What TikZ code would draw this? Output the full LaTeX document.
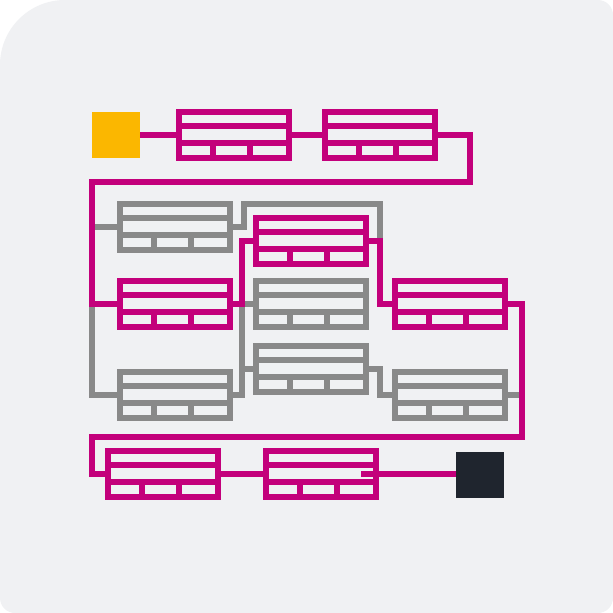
\documentclass[tikz,border=0pt]{standalone}
\usetikzlibrary{calc}
\definecolor{mag}{HTML}{C3007B}
\definecolor{gry}{HTML}{898989}
\definecolor{sun}{HTML}{FBB700}
\definecolor{ink}{HTML}{1F252E}
\definecolor{paper}{HTML}{F0F1F3}
\tikzset{
  record/.style={draw=#1, line width=6pt, minimum width=110pt, minimum height=46pt,
    inner sep=0pt, outer sep=3pt, anchor=north west,
    path picture={
      \draw[#1, line width=6pt]
        ($(path picture bounding box.north west)+(0,-14.3pt)$) -- ++(110pt,0)
        ($(path picture bounding box.north west)+(0,-30.8pt)$) -- ++(110pt,0)
        ($(path picture bounding box.north west)+(33.6pt,-30.8pt)$) -- ++(0,-20pt)
        ($(path picture bounding box.north west)+(71.3pt,-30.8pt)$) -- ++(0,-20pt);
    }},
  link/.style={draw=#1, line width=5.5pt},
  block/.style={fill=#1, minimum width=48pt, minimum height=46pt, inner sep=0pt},
}
\begin{document}
\begin{tikzpicture}[x=1pt,y=-1pt]
			\useasboundingbox (0,0) rectangle (613,613);
			\fill[paper, rounded corners=15pt] (0,0) rectangle (613,613);
			\fill[white] (0,0) rectangle (65,65);
			\fill[paper] (65,65) circle[radius=65pt];
			% start and end
			\node[block=sun] (start) at (116,135) {};
			\node[block=ink] (finish) at (480,475) {};
			% tasks
			\node[record=mag] (t11) at (176,109) {};
			\node[record=mag] (t12) at (322,109) {};
			\node[record=gry] (t21) at (117,201) {};
			\node[record=mag] (t22) at (253,215) {};
			\node[record=mag] (t31) at (117,278) {};
			\node[record=gry] (t32) at (253,278) {};
			\node[record=mag] (t33) at (392,278) {};
			\node[record=gry] (t42) at (253,343) {};
			\node[record=gry] (t41) at (117,369) {};
			\node[record=gry] (t43) at (392,369) {};
			\node[record=mag] (t51) at (105,448) {};
			\node[record=mag] (t52) at (263,448) {};
			\coordinate (turn1) at (470,182);
			\coordinate (turn2) at (92,182);
			\coordinate (turn3) at (522,437);
			\coordinate (turn4) at (92,437);
			\coordinate (gtop) at (380,204);
			\coordinate (tail) at ($(t52.east)+(-18,0)$);
			% slack paths
			\draw[link=gry] (t21.west) -- (t21.west -| turn2);
			\draw[link=gry] (t21.east) -- ++(11,0) |- (gtop) -- (gtop |- t22.east);
			\draw[link=gry] (t31.west -| turn2) |- (t41.west);
			\draw[link=gry] (t41.east) -- ++(9,0) coordinate (gx) |- (t32.west) (gx |- t42.west) -- (t42.west);
			\draw[link=gry] (t42.east) -- ++(11,0) |- (t43.west);
			\draw[link=gry] (t43.east) -- (t43.east -| turn3);
			% critical path
			\draw[link=mag] (start.east) -- (t11.west);
			\draw[link=mag] (t11.east) -- (t12.west);
			\draw[link=mag] (t12.east) -| (turn1) -- (turn2) |- (t31.west);
			\draw[link=mag] (t31.east) -- ++(9,0) |- (t22.west);
			\draw[link=mag] (t22.east) -- ++(11,0) |- (t33.west);
			\draw[link=mag] (t33.east) -| (turn3) -- (turn4) |- (t51.west);
			\draw[link=mag] (t51.east) -- (t52.west);
			\draw[link=mag] (tail) -- (tail -| finish.west);
\end{tikzpicture}
\end{document}
